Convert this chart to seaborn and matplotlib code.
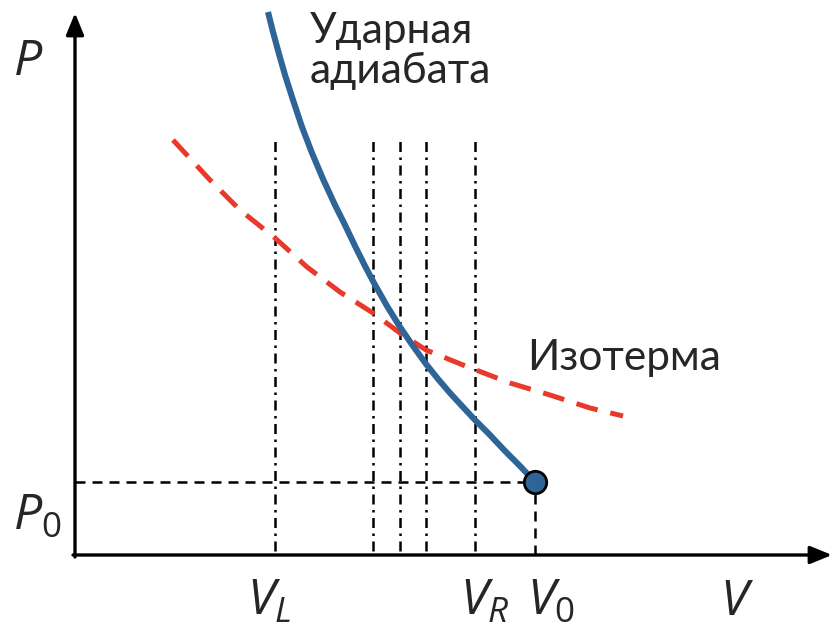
import matplotlib
matplotlib.use("Agg")
import matplotlib.pyplot as plt
import seaborn as sns
import pandas as pd

# Shock adiabat (Hugoniot), schematic units
adiabat_V = [1.93, 1.98, 2.04, 2.10, 2.18, 2.27, 2.37, 2.48, 2.60, 2.70, 2.81, 2.90,
             2.99, 3.12, 3.25, 3.38, 3.51, 3.63, 3.75, 3.87, 4.00, 4.15, 4.30, 4.45, 4.60]
adiabat_P = [5.43, 5.23, 5.01, 4.80, 4.55, 4.28, 4.02, 3.76, 3.50, 3.30, 3.07, 2.89,
             2.72, 2.49, 2.28, 2.09, 1.91, 1.76, 1.62, 1.49, 1.35, 1.20, 1.04, 0.89, 0.73]
# Isotherm
isotherm_V = [0.98, 1.35, 1.65, 2.00, 2.32, 2.65, 2.98, 3.25, 3.51, 3.88, 4.35, 4.75, 5.15, 5.48]
isotherm_P = [4.15, 3.75, 3.45, 3.17, 2.88, 2.63, 2.42, 2.22, 2.05, 1.90, 1.72, 1.60, 1.47, 1.39]
# Initial state
V0, P0 = 4.60, 0.73
# Vertical reference volumes
ref_V = [2.00, 2.98, 3.25, 3.51, 4.00]
ref_top = 4.18
# axis labels: (left x, baseline y, text)
axis_labels = [(1.72, -0.60, r"$V_L$"), (3.85, -0.60, r"$V_R$"), (4.52, -0.60, r"$V_0$"),
               (6.45, -0.60, r"$V$"), (-0.62, 4.80, r"$P$"), (-0.62, 0.25, r"$P_0$")]

sns.set_theme(style="white")
plt.rcParams["font.family"] = ["Lato", "DejaVu Sans"]
plt.rcParams["mathtext.fontset"] = "custom"
plt.rcParams["mathtext.it"] = "Open Sans:italic"
plt.rcParams["mathtext.rm"] = "Open Sans"

fig = plt.figure(figsize=(8.32, 6.35), dpi=100)
ax = fig.add_axes([0, 0, 1, 1])
ax.set_xlim(-0.75, 7.57)
ax.set_ylim(-0.80, 5.55)
ax.axis("off")

blue = "#2e6496"
red = "#e8392a"

# reference lines
for v in ref_V:
    ax.plot([v, v], [0.04, ref_top], color="black", lw=1.8,
            linestyle=(0, (4, 2.2, 1, 2.2)), zorder=1)
ax.plot([0, V0], [P0, P0], color="black", lw=1.8, linestyle=(0, (4, 2.8)), zorder=1)
ax.plot([V0, V0], [0, P0], color="black", lw=1.8, linestyle=(0, (4, 2.8)), zorder=1)

df_iso = pd.DataFrame({"V": isotherm_V, "P": isotherm_P})
sns.lineplot(data=df_iso, x="V", y="P", ax=ax, color=red, lw=3.6, sort=False,
             linestyle=(0, (4.4, 2.6)), zorder=2)
df_ad = pd.DataFrame({"V": adiabat_V, "P": adiabat_P})
sns.lineplot(data=df_ad, x="V", y="P", ax=ax, color=blue, lw=4.4, sort=False,
             zorder=3, solid_capstyle="butt", solid_joinstyle="round")
sns.scatterplot(x=[V0], y=[P0], ax=ax, s=260, color=blue, edgecolor="black",
                linewidth=2, zorder=4)

# axes with arrows
ax.annotate("", xy=(7.57, 0), xytext=(-0.02, 0),
            arrowprops=dict(arrowstyle="-|>,head_length=1.1,head_width=0.45",
                            color="black", lw=2.4, shrinkA=0, shrinkB=0))
ax.annotate("", xy=(0, 5.42), xytext=(0, -0.02),
            arrowprops=dict(arrowstyle="-|>,head_length=1.1,head_width=0.45",
                            color="black", lw=2.4, shrinkA=0, shrinkB=0))

for x, y, lab in axis_labels:
    ax.text(x, y, lab, fontsize=36, ha="left", va="baseline")

ax.text(2.35, 5.12, "Ударная", fontsize=30.5, ha="left", va="baseline")
ax.text(2.35, 4.72, "адиабата", fontsize=30.5, ha="left", va="baseline")
ax.text(4.52, 1.85, "Изотерма", fontsize=30.5, ha="left", va="baseline")

fig.savefig("out.png", dpi=100)
